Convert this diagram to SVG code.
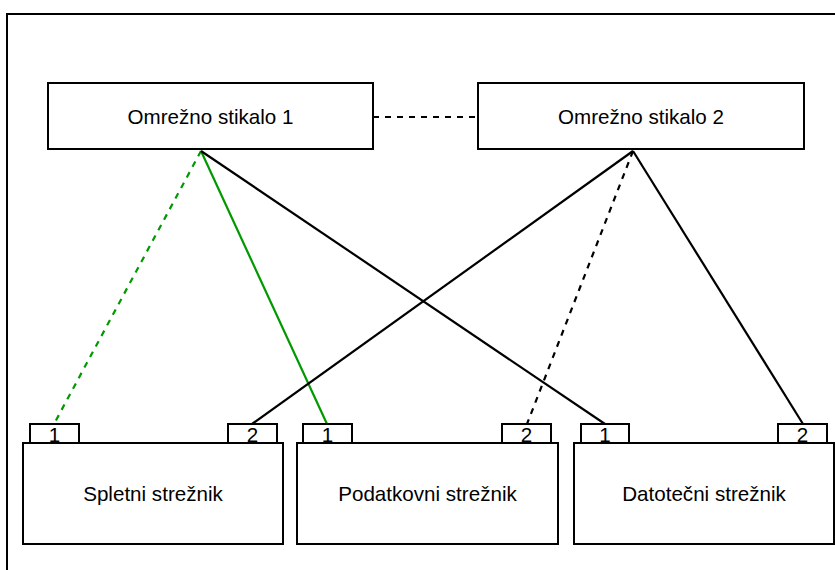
<svg xmlns="http://www.w3.org/2000/svg" width="835" height="570" viewBox="0 0 835 570">
<style>
.box{fill:#fff;stroke:#000;stroke-width:2}
.t{font-family:"Liberation Sans",Arial,sans-serif;font-size:20.6px;fill:#000;text-anchor:middle}
.ln{stroke:#000;stroke-width:2.2;fill:none}
.green{stroke:#009900}
.dash{stroke-dasharray:6 6}
</style>
<rect x="7" y="14" width="840" height="570" fill="#fff" stroke="#000" stroke-width="2"/>
<g id="connectors">
<line class="ln dash" x1="373" y1="117" x2="478" y2="117"/>
<line class="ln green dash" x1="201" y1="151" x2="54" y2="424"/>
<line class="ln green" x1="201" y1="151" x2="327" y2="424"/>
<line class="ln" x1="201" y1="151" x2="605" y2="424"/>
<line class="ln" x1="633" y1="151" x2="252" y2="424"/>
<line class="ln dash" x1="633" y1="151" x2="527" y2="424"/>
<line class="ln" x1="633" y1="151" x2="803" y2="424"/>
</g>
<g id="switch1">
<rect class="box" x="48" y="83" width="325" height="66"/>
<text class="t" x="210.5" y="124">Omrežno stikalo 1</text>
</g>
<g id="switch2">
<rect class="box" x="478" y="83" width="326" height="66"/>
<text class="t" x="641" y="124">Omrežno stikalo 2</text>
</g>
<g id="server-web">
<rect class="box" x="30" y="424" width="49" height="19"/>
<text class="t" x="54.5" y="442">1</text>
<rect class="box" x="228" y="424" width="49" height="19"/>
<text class="t" x="252.5" y="442">2</text>
<rect class="box" x="23" y="443" width="260" height="101"/>
<text class="t" x="153" y="501">Spletni strežnik</text>
</g>
<g id="server-db">
<rect class="box" x="303" y="424" width="49" height="19"/>
<text class="t" x="327.5" y="442">1</text>
<rect class="box" x="502" y="424" width="49" height="19"/>
<text class="t" x="526.5" y="442">2</text>
<rect class="box" x="297" y="443" width="261" height="101"/>
<text class="t" x="427.5" y="501">Podatkovni strežnik</text>
</g>
<g id="server-file">
<rect class="box" x="581" y="424" width="48" height="19"/>
<text class="t" x="605" y="442">1</text>
<rect class="box" x="778" y="424" width="49" height="19"/>
<text class="t" x="802.5" y="442">2</text>
<rect class="box" x="574" y="443" width="260" height="101"/>
<text class="t" x="704" y="501">Datotečni strežnik</text>
</g>
</svg>
